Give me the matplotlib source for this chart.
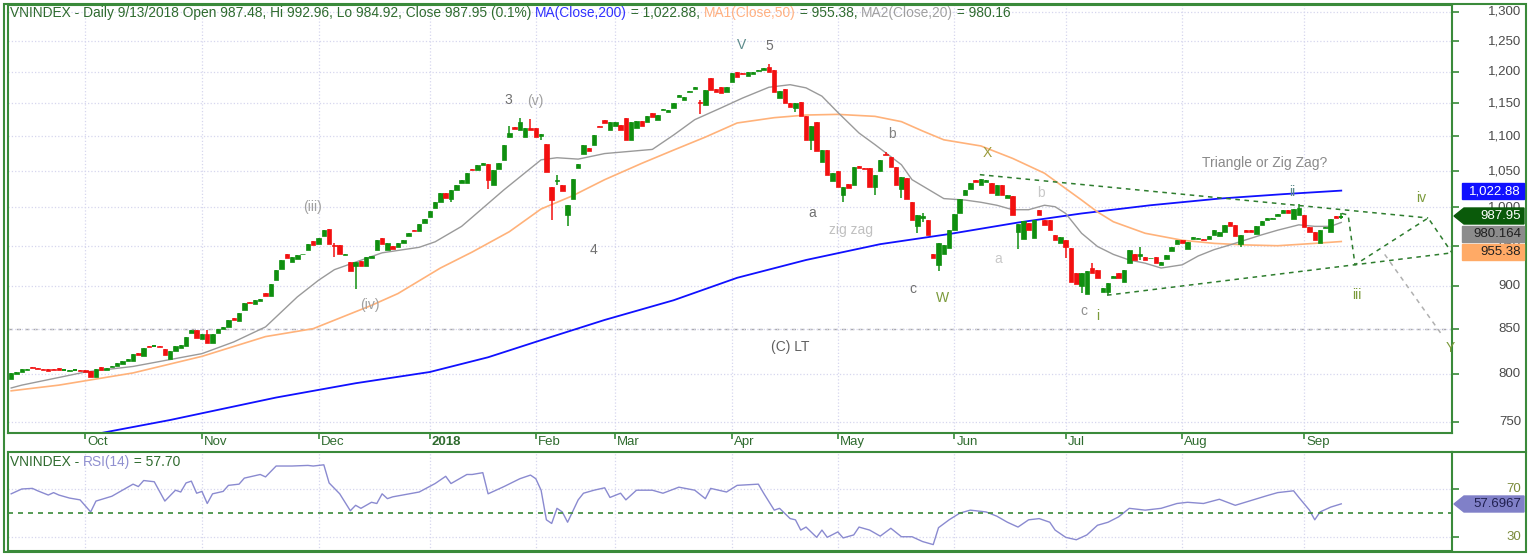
import matplotlib
matplotlib.use('Agg')
import matplotlib.pyplot as plt
import matplotlib.transforms as mtransforms
from matplotlib.patches import Rectangle, Polygon
from matplotlib.lines import Line2D
from matplotlib.ticker import NullLocator, FixedLocator

plt.rcParams['font.family'] = ['Liberation Sans', 'DejaVu Sans']

W, H = 1528, 554

# daily candles, 12 Sep 2017 .. 13 Sep 2018 (x = trading day index)
opens = [795, 800, 802, 804, 807, 806, 805, 805, 805, 806, 804, 803, 804, 804, 804, 803, 797, 807, 804, 807,
         808, 811, 814, 814, 823, 819, 830, 830, 830, 827, 816, 825, 828, 830, 845, 848, 838, 844, 834, 845,
         850, 852, 862, 859, 872, 881, 878, 882, 892, 888, 907, 921, 940, 930, 933, 939, 944, 956, 952, 962,
         972, 951, 951, 938, 930, 925, 931, 925, 935, 945, 960, 945, 950, 948, 954, 962, 970, 969, 979, 987,
         999, 1008, 1020, 1012, 1024, 1034, 1033, 1053, 1052, 1059, 1060, 1031, 1053, 1066, 1099, 1114, 1110, 1099, 1113, 1113,
         1100, 1089, 1028, 1036, 1030, 990, 1011, 1054, 1074, 1083, 1087, 1116, 1125, 1110, 1116, 1117, 1128, 1094, 1112, 1123,
         1122, 1135, 1125, 1139, 1137, 1143, 1160, 1155, 1167, 1172, 1152, 1147, 1189, 1173, 1175, 1168, 1184, 1199, 1198, 1193,
         1196, 1201, 1203, 1207, 1202, 1158, 1173, 1151, 1143, 1152, 1131, 1094, 1122, 1063, 1080, 1036, 1050, 1017, 1032, 1031,
         1057, 1055, 1055, 1028, 1050, 1074, 1070, 1056, 1025, 1040, 1007, 975, 986, 983, 939, 926, 939, 947, 970, 993,
         1017, 1025, 1037, 1031, 1035, 1033, 1017, 1030, 1013, 1015, 967, 958, 980, 960, 997, 983, 983, 964, 953, 957,
         947, 916, 900, 890, 922, 920, 893, 893, 910, 916, 905, 928, 939, 937, 936, 934, 936, 926, 933, 943,
         952, 957, 946, 958, 959, 959, 959, 964, 962, 967, 981, 977, 952, 970, 970, 965, 977, 983, 985, 989,
         993, 997, 985, 990, 990, 974, 967, 954, 973, 968, 989, 987.48]
closes = [801, 802, 805, 805, 806, 805, 804, 803, 804, 804, 804.5, 804, 804, 803, 802, 797, 805, 804, 806, 808,
          812, 814, 816, 822, 821, 828, 829, 830.5, 829, 820, 825, 831, 832, 841, 849, 839, 844, 834, 844, 850,
          852, 860, 860, 868, 880, 880, 883, 884, 888, 903, 920, 932, 935, 936, 938, 940, 952, 951, 960, 970,
          952, 950, 940, 940, 918, 929, 924, 936, 937, 957, 952, 954, 946, 953, 957, 966, 969, 978, 985, 995,
          1008, 1019, 1013, 1024, 1031, 1037, 1048, 1052, 1059, 1061, 1038, 1052, 1061, 1088, 1105, 1111, 1122, 1112, 1110, 1099,
          1104, 1049, 1010, 1038, 1022, 1004, 1039, 1060, 1088, 1078, 1102, 1114, 1120, 1122, 1122, 1110, 1095, 1122, 1123, 1116,
          1130, 1129, 1132, 1141, 1140, 1150, 1163, 1160, 1169, 1175, 1150, 1170, 1171, 1168, 1166, 1175, 1198, 1192, 1196, 1199,
          1200, 1203, 1205, 1200, 1168, 1169, 1151, 1145, 1150, 1131, 1094, 1115, 1078, 1080, 1045, 1048, 1028, 1028, 1027, 1056,
          1055, 1053, 1028, 1045, 1066, 1073, 1056, 1031, 1042, 1012, 983, 990, 988, 964, 934, 953, 951, 970, 991, 1012,
          1024, 1033, 1035, 1039, 1038, 1020, 1030, 1017, 1017, 990, 978, 982, 970, 983, 990, 977, 970, 957, 961, 948,
          905, 903, 916, 918, 916, 910, 898, 904, 912, 910, 920, 944, 932, 939, 932, 935, 928, 929, 938, 949,
          957, 954, 955, 961, 960, 957, 963, 970, 968, 977, 975, 962, 964, 967, 967, 975, 982, 986, 986, 991,
          996, 992, 998, 999, 974, 967, 957, 970, 974, 985, 986, 987.95]
highs = {37: 849, 61: 953, 94: 1115, 96: 1127, 98: 1126, 103: 1044, 130: 1155, 143: 1212, 165: 1077,
         172: 993, 204: 928, 211: 945, 213: 949, 243: 1005, 251: 992.96}
lows = {61: 936, 65: 897, 83: 1008, 90: 1025, 100: 1094, 102: 983.5, 103: 1030, 105: 975, 130: 1134,
        148: 1136, 151: 1080, 157: 1007, 163: 1017, 168: 1013, 171: 966, 172: 981, 175: 918, 190: 946,
        199: 935, 202: 892, 207: 889, 213: 932, 232: 948, 251: 984.92}

month_pos = [14, 36, 58, 79, 99, 114, 136, 156, 178, 199, 221, 244]
month_lbl = ['Oct', 'Nov', 'Dec', '2018', 'Feb', 'Mar', 'Apr', 'May', 'Jun', 'Jul', 'Aug', 'Sep']

ma200_x = [16, 30, 50, 65, 79, 90, 100, 112, 125, 137, 150, 164, 177, 190, 202, 215, 228, 240, 251]
ma200_y = [738, 752, 775, 790, 802, 818, 837, 860, 883, 910, 932, 952, 965, 980, 992, 1003, 1012, 1018, 1022.88]
ma50_x = [0, 9, 23, 36, 48, 57, 68, 73, 81, 87, 94, 100, 106, 112, 119, 125, 131, 137, 144, 150, 156, 163,
          168, 172, 176, 183, 189, 195, 202, 205, 208, 214, 221, 227, 233, 239, 246, 251]
ma50_y = [782, 788, 801, 819, 841, 850, 877, 891, 922, 942, 968, 998, 1016, 1038, 1061, 1080, 1099, 1120, 1128,
          1132, 1133, 1130, 1122, 1108, 1095, 1086, 1068, 1047, 1010, 994, 981, 966, 957, 953, 951, 950, 953, 955.38]
ma20_x = [0, 2, 14, 23, 36, 42, 48, 54, 58, 61, 64, 67, 70, 73, 77, 80, 85, 87, 93, 100, 103, 107, 112, 121,
          125, 129, 134, 138, 143, 147, 150, 153, 156, 160, 163, 168, 170, 176, 180, 183, 186, 189, 192, 195,
          197, 199, 202, 205, 208, 211, 214, 217, 221, 224, 227, 230, 233, 236, 239, 243, 246, 249, 251]
ma20_y = [785, 788, 802, 808, 822, 835, 852, 887, 907, 920, 927, 934, 941, 944, 948, 955, 975, 987, 1024,
          1066, 1069, 1067, 1075, 1081, 1102, 1125, 1143, 1158, 1175, 1179, 1174, 1161, 1136, 1105, 1088, 1059,
          1038, 1012, 1010, 1007, 1003, 997, 997, 1003, 1001, 992, 966, 949, 939, 932, 928, 922, 926, 937, 945,
          951, 957.5, 964, 970, 977, 975, 975, 980.16]

rsi_x = [0, 2, 4, 5, 7, 8, 9, 11, 13, 15, 16, 19, 21, 23, 24, 25, 27, 29, 31, 32, 33, 34, 35, 36, 37, 38,
         40, 41, 43, 44, 47, 48, 50, 53, 56, 57, 59, 60, 62, 64, 65, 66, 68, 69, 70, 71, 72, 77, 80, 82, 83,
         86, 87, 89, 90, 92, 93, 96, 98, 99, 100, 101, 102, 103, 104, 105, 107, 108, 110, 112, 113, 115, 116,
         118, 121, 123, 126, 129, 131, 132, 135, 137, 141, 142, 144, 145, 147, 148, 149, 150, 152, 153, 154,
         156, 157, 159, 160, 162, 164, 166, 168, 170, 172, 174, 175, 177, 179, 181, 184, 186, 188, 190, 192,
         194, 196, 197, 199, 201, 203, 205, 207, 209, 211, 214, 217, 220, 222, 225, 228, 231, 234, 237, 239,
         242, 243, 245, 246, 247, 249, 251]
rsi_y = [66, 70, 70.5, 68.5, 65, 67, 65, 62.5, 61, 51, 60, 64, 69, 74, 72, 77, 76, 60, 69, 67.5, 75, 76.5,
         66.5, 68, 58, 66, 68, 73, 74, 79, 82, 80, 89, 89, 89.5, 89, 90, 75, 66, 52, 56.5, 54, 59, 58, 66,
         62, 63.5, 67.5, 74.5, 80.5, 74.5, 82, 82, 83.5, 66, 70, 72, 78.5, 81.5, 78.5, 69, 44.5, 41.5, 54,
         51, 42.5, 61, 66.5, 69, 71, 63, 66.5, 61, 69, 69, 66.5, 71.5, 69, 62, 70.5, 67.5, 73, 74, 66.5, 52.5,
         54, 45.5, 44.5, 36, 38.5, 30, 36, 30, 34.5, 29.5, 32, 38.5, 36, 31, 37.5, 30.5, 30.5, 26.5, 24, 38,
         44.5, 50, 52.5, 51, 47.5, 42.5, 38.5, 44.5, 45.5, 42.5, 36, 30, 28, 32, 40, 42.5, 47, 54, 52.5, 54,
         58, 59, 58, 61.5, 56.5, 60.5, 64.5, 67, 68.5, 63, 52.5, 44.5, 51, 55, 57.7]

# (label, x, y, colour)
waves = [('V', 137.9, 1244, '#5b8a8a'), ('5', 143.0, 1242, '#707070'),
         ('3', 93.8, 1155, '#707070'), ('(v)', 98.9, 1153, '#a0a0a0'),
         ('(iii)', 56.8, 1000, '#a0a0a0'), ('(iv)', 67.7, 877, '#a0a0a0'),
         ('4', 109.8, 944, '#707070'), ('a', 151.1, 993, '#707070'),
         ('zig zag', 158.5, 970, '#c0c0c0'), ('b', 166.2, 1104, '#808080'),
         ('c', 170.2, 896, '#707070'), ('W', 175.7, 886, '#7a9a3a'),
         ('X', 184.2, 1076, '#9a9a3a'), ('b', 194.3, 1020, '#c8c8c8'),
         ('a', 186.2, 933, '#c8c8c8'), ('c', 202.5, 870, '#909090'),
         ('i', 205.1, 865, '#7a9a3a'), ('ii', 241.7, 1021, '#5b8a8a'),
         ('Triangle or Zig Zag?', 236.6, 1062, '#8a8a8a'), ('iv', 266.0, 1013, '#7a9a3a'),
         ('iii', 254.0, 889, '#7a9a3a'), ('Y', 271.5, 828, '#7a9a3a'),
         ('(C) LT', 147.0, 829, '#606060')]

tri_up_x, tri_up_y = [182.8, 267.4], [1045, 986]
tri_lo_x, tri_lo_y = [206.8, 271.9], [889, 941]
proj_x, proj_y = [251.1, 252.3, 253.6, 267.4, 271.9], [992, 990, 926, 986, 941]
alt_x, alt_y = [259.2, 270.0], [939, 843]

GREEN = '#3a8a3a'
DKG = '#2f6b2f'
GRID = '#d6d6ee'
UP, DN = '#0f8f0f', '#f21010'

fig = plt.figure(figsize=(W / 100, H / 100), dpi=100)
ax = fig.add_axes([8 / W, 1 - 433 / H, 1444 / W, 428 / H])
ax2 = fig.add_axes([8 / W, 1 - 551 / H, 1444 / W, 99 / H])

# candles
bw = 0.84
for i, (o, c) in enumerate(zip(opens, closes)):
    col = UP if c >= o else DN
    hi = highs.get(i, max(o, c))
    lo = lows.get(i, min(o, c))
    if hi > lo:
        ax.vlines(i, lo, hi, color=col, lw=1.1, zorder=3)
    bot, top = min(o, c), max(o, c)
    if top - bot < 0.8:
        ax.hlines(o, i - bw / 2, i + bw / 2, color=col, lw=1.4, zorder=3)
    else:
        ax.add_patch(Rectangle((i - bw / 2, bot), bw, top - bot, facecolor=col,
                               edgecolor=col, lw=0.5, zorder=3))

ax.plot(ma200_x, ma200_y, color='#1010ff', lw=1.3, zorder=2)
ax.plot(ma50_x, ma50_y, color='#ffb27a', lw=1.2, zorder=2)
ax.plot(ma20_x, ma20_y, color='#9a9a9a', lw=1.0, zorder=2)

ax.axhline(850, color='#a8a8a8', lw=1, dashes=(3, 3), zorder=1)
ax.plot(tri_up_x, tri_up_y, color='#2e7d2e', lw=1.1, dashes=(3, 3), zorder=4)
ax.plot(tri_lo_x, tri_lo_y, color='#2e7d2e', lw=1.1, dashes=(3, 3), zorder=4)
ax.plot(proj_x, proj_y, color='#2e7d2e', lw=1.1, dashes=(3, 3), zorder=4)
ax.plot(alt_x, alt_y, color='#b0b0b0', lw=1.1, dashes=(3, 3), zorder=4)

for s, x, y, col in waves:
    ax.text(x, y, s, color=col, fontsize=10, ha='center', va='center', zorder=5)

ax.set_yscale('log')
ax.set_ylim(739, 1312)
ax.set_xlim(-0.6, 271.9)
yt = [750, 800, 850, 900, 950, 1000, 1050, 1100, 1150, 1200, 1250, 1300]
ax.yaxis.set_major_locator(FixedLocator(yt))
ax.yaxis.set_minor_locator(NullLocator())
ax.yaxis.tick_right()
ax.tick_params(axis='y', length=5, color=GREEN, width=1.2, labelright=False, labelleft=False)
ax.set_xticks(month_pos)
ax.tick_params(axis='x', length=4, color=GREEN, width=1.2, labelbottom=False)
ax.grid(True, color=GRID, ls=':', lw=0.9)
blend = mtransforms.blended_transform_factory(ax.transAxes, ax.transData)
for v in yt:
    ax.text((1521 - 8) / 1444, v, f'{v:,}', transform=blend, ha='right', va='center',
            fontsize=9.5, color='#4a4a4a', clip_on=False)
for p, lbl in zip(month_pos, month_lbl):
    ax.annotate(lbl, (p, 0), xycoords=('data', 'axes fraction'), xytext=(2, -3),
                textcoords='offset pixels', ha='left', va='top', fontsize=9.5, color=DKG,
                fontweight='bold' if lbl == '2018' else 'normal', annotation_clip=False)

# RSI panel
ax2.plot(rsi_x, rsi_y, color='#8a8ad0', lw=1)
ax2.axhline(50, color='#3a8a3a', lw=1.2, dashes=(3, 3))
ax2.set_ylim(18.7, 100.6)
ax2.set_xlim(ax.get_xlim())
ax2.set_yticks([30, 70])
ax2.yaxis.tick_right()
ax2.tick_params(axis='y', length=5, color=GREEN, width=1.2, labelright=False, labelleft=False)
ax2.set_xticks(month_pos)
ax2.tick_params(axis='x', length=0, labelbottom=False)
ax2.grid(True, color=GRID, ls=':', lw=0.9)
blend2 = mtransforms.blended_transform_factory(ax2.transAxes, ax2.transData)
for v in [30, 70]:
    ax2.text((1521 - 8) / 1444, v, str(v), transform=blend2, ha='right', va='center',
             fontsize=9.5, color='#7a8a3a', clip_on=False)

for a in (ax, ax2):
    for sp in a.spines.values():
        sp.set_color(GREEN)
        sp.set_linewidth(1.5)


def fx(x):
    return x / W


def fy(y):
    return 1 - y / H


# outer frame
fig.add_artist(Line2D([fx(1452), fx(1526)], [fy(452), fy(452)], color=GREEN, lw=1.5))
fig.add_artist(Rectangle((fx(4), fy(552)), fx(1522), 548 / H, fill=False, edgecolor=GREEN, lw=1.5,
                         transform=fig.transFigure))


def colored_line(x, y, parts, size=9.95):
    r = fig.canvas.get_renderer()
    for s, col in parts:
        t = fig.text(fx(x), fy(y), s, color=col, fontsize=size, ha='left', va='center')
        x += t.get_window_extent(renderer=r).width


colored_line(10, 13, [('VNINDEX - Daily 9/13/2018 Open 987.48, Hi 992.96, Lo 984.92, Close 987.95 (0.1%) ', DKG),
                      ('MA(Close,200)', '#3030ff'), (' = 1,022.88, ', DKG),
                      ('MA1(Close,50)', '#ffb080'), (' = 955.38, ', DKG),
                      ('MA2(Close,20)', '#a0a0a0'), (' = 980.16', DKG)])
colored_line(10, 462, [('VNINDEX - ', DKG), ('RSI(14)', '#9090d0'), (' = 57.70', DKG)])


def tag(y, text, fc, tc, arrow=False):
    h = 8
    if arrow:
        pts = [(1454, y), (1464, y - h), (1524, y - h), (1524, y + h), (1464, y + h)]
    else:
        pts = [(1462, y - h), (1524, y - h), (1524, y + h), (1462, y + h)]
    fig.add_artist(Polygon([(fx(px), fy(py)) for px, py in pts], closed=True, facecolor=fc,
                           edgecolor=fc, transform=fig.transFigure))
    fig.text(fx(1521), fy(y), text, color=tc, fontsize=9.5, ha='right', va='center')


tag(191, '1,022.88', '#1010ff', 'white')
tag(216, '987.95', '#0a5a0a', 'white', arrow=True)
tag(234, '980.164', '#8c8c8c', '#202020')
tag(252, '955.38', '#ffaa66', '#202020')
tag(504, '57.6967', '#8080c8', '#202050', arrow=True)

fig.savefig('out.png', dpi=100)
